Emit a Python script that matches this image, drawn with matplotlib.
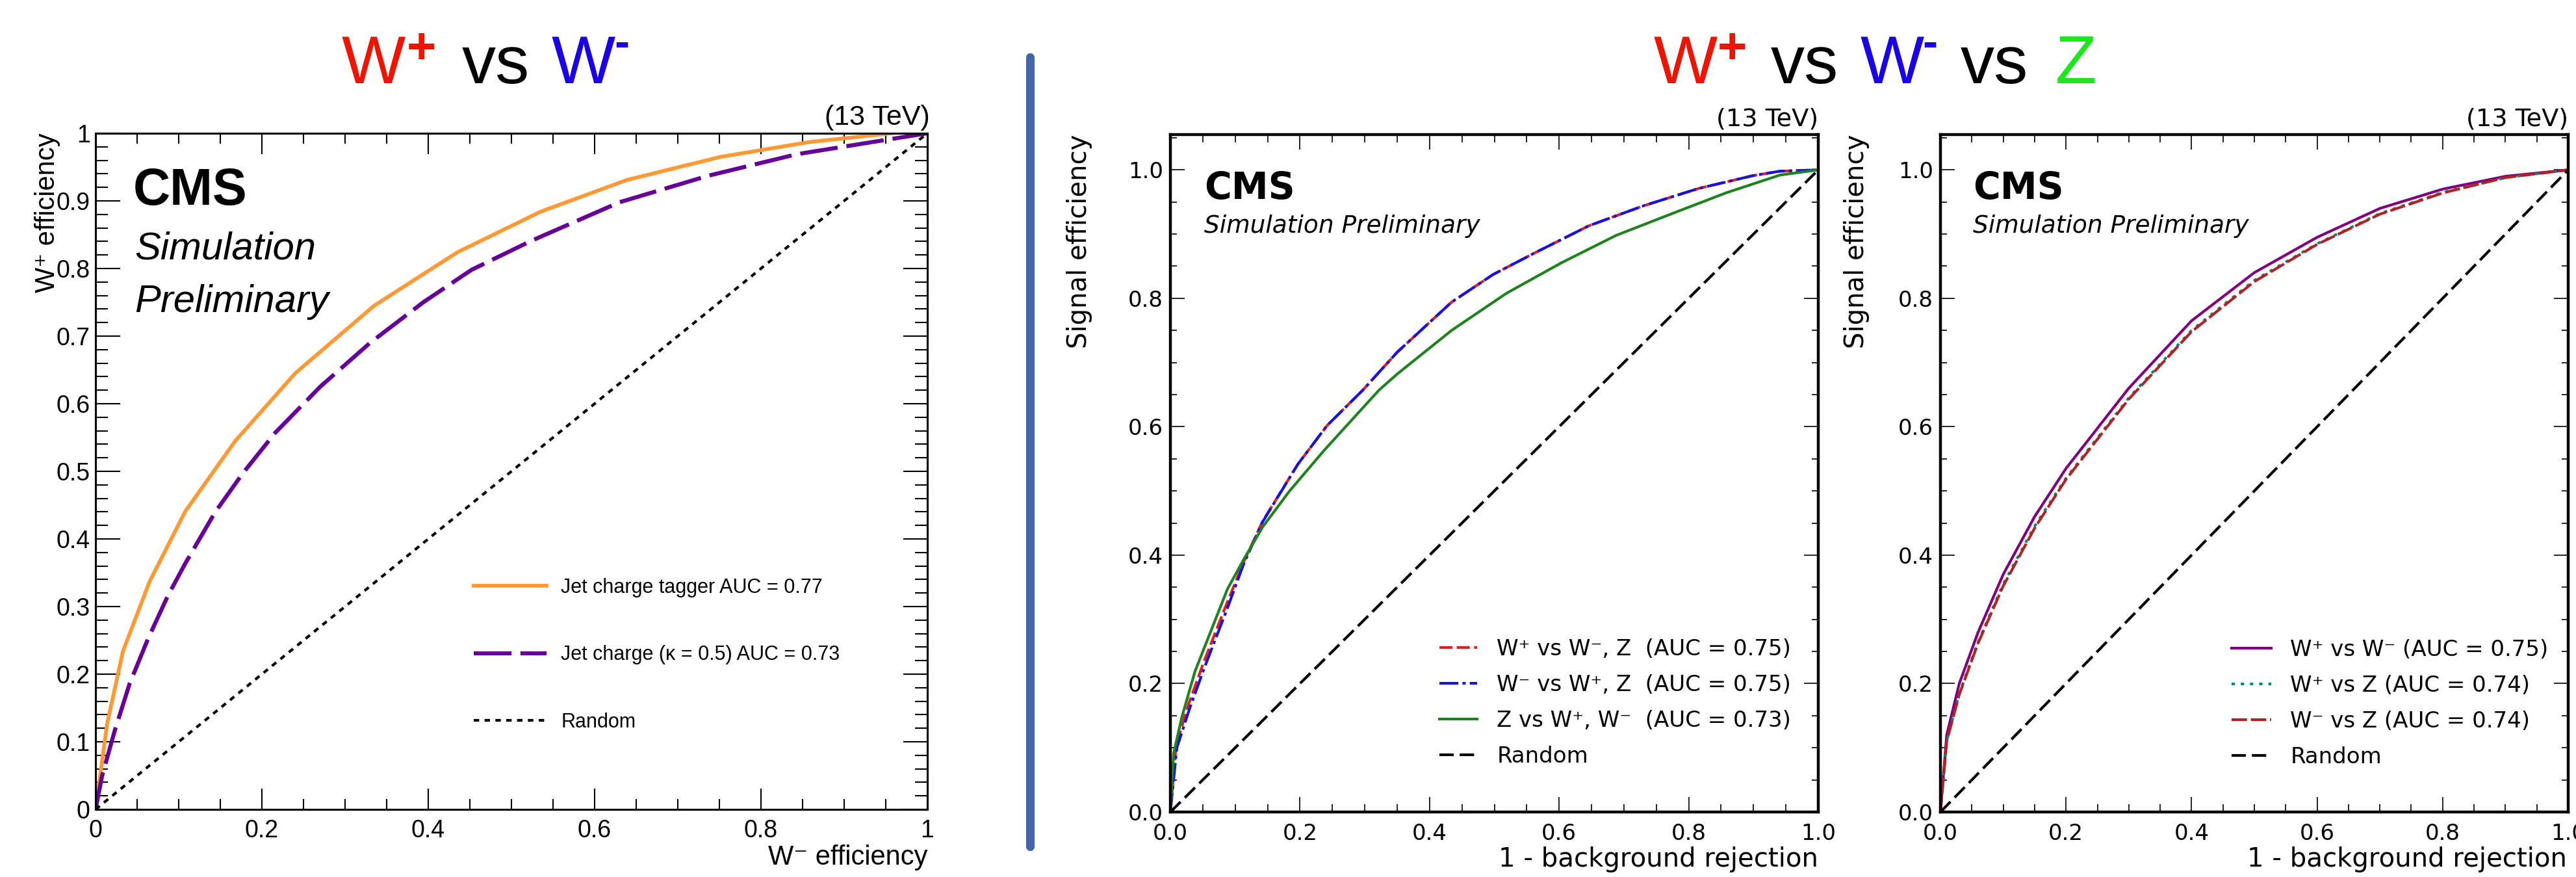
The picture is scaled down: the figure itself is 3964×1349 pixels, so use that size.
import matplotlib
matplotlib.use("Agg")
import matplotlib.pyplot as plt
from matplotlib.ticker import MultipleLocator
from matplotlib.lines import Line2D

# ---------------- data ----------------
# Left panel: W+ vs W- (efficiency curves)
tagger_x = [0, 0.014, 0.033, 0.065, 0.108, 0.168, 0.24, 0.335, 0.435, 0.535, 0.639, 0.751, 0.858, 0.957]
tagger_y = [0, 0.127, 0.234, 0.337, 0.441, 0.545, 0.645, 0.745, 0.824, 0.884, 0.931, 0.965, 0.987, 1.0]
kappa_x = [0, 0.008, 0.023, 0.041, 0.063, 0.087, 0.108, 0.144, 0.177, 0.216, 0.27, 0.33, 0.394, 0.452,
           0.524, 0.63, 0.736, 0.843, 0.949, 1.0]
kappa_y = [0, 0.05, 0.116, 0.186, 0.252, 0.316, 0.364, 0.44, 0.497, 0.557, 0.625, 0.69, 0.75, 0.798,
           0.841, 0.898, 0.937, 0.969, 0.990, 1.0]
random_xy = [0, 1]

# Middle panel: one-vs-rest ROC
wp_rest_x = [0, 0.009, 0.028, 0.051, 0.084, 0.113, 0.1425, 0.197, 0.242, 0.297, 0.35, 0.434, 0.498, 0.561,
             0.646, 0.730, 0.815, 0.899, 0.941, 1.0]
wp_rest_y = [0, 0.104, 0.168, 0.232, 0.317, 0.389, 0.453, 0.542, 0.602, 0.657, 0.716, 0.794, 0.837, 0.870,
             0.913, 0.944, 0.971, 0.991, 0.998, 1.0]
wm_rest_x = [0, 0.010, 0.030, 0.053, 0.086, 0.113, 0.1425, 0.197, 0.242, 0.297, 0.35, 0.434, 0.498, 0.561,
             0.646, 0.730, 0.815, 0.899, 0.941, 1.0]
wm_rest_y = [0, 0.100, 0.162, 0.226, 0.312, 0.386, 0.452, 0.542, 0.602, 0.657, 0.716, 0.794, 0.837, 0.870,
             0.913, 0.944, 0.971, 0.991, 0.998, 1.0]
z_rest_x = [0, 0.005, 0.0175, 0.038, 0.063, 0.088, 0.113, 0.1425, 0.184, 0.238, 0.322, 0.35, 0.434, 0.519,
            0.603, 0.688, 0.772, 0.857, 0.941, 1.0]
z_rest_y = [0, 0.091, 0.147, 0.219, 0.283, 0.347, 0.393, 0.444, 0.50, 0.564, 0.657, 0.682, 0.750, 0.808,
            0.855, 0.898, 0.931, 0.964, 0.992, 1.0]

# Right panel: pairwise ROC
pair_x = [0, 0.01, 0.03, 0.06, 0.1, 0.15, 0.2, 0.3, 0.4, 0.5, 0.6, 0.7, 0.8, 0.9, 1.0]
wpwm_y = [0, 0.12, 0.20, 0.28, 0.37, 0.46, 0.535, 0.66, 0.765, 0.84, 0.895, 0.94, 0.97, 0.99, 1.0]
wpz_y = [0, 0.11, 0.185, 0.265, 0.355, 0.445, 0.52, 0.645, 0.75, 0.828, 0.885, 0.932, 0.965, 0.988, 1.0]
wmz_y = [0, 0.11, 0.183, 0.263, 0.352, 0.442, 0.518, 0.643, 0.748, 0.826, 0.884, 0.931, 0.964, 0.988, 1.0]

left_labels = ["Jet charge tagger AUC = 0.77", "Jet charge (\u03ba = 0.5) AUC = 0.73", "Random"]
mid_labels = ["W\u207a vs W\u207b, Z  (AUC = 0.75)", "W\u207b vs W\u207a, Z  (AUC = 0.75)",
              "Z vs W\u207a, W\u207b  (AUC = 0.73)", "Random"]
right_labels = ["W\u207a vs W\u207b (AUC = 0.75)", "W\u207a vs Z (AUC = 0.74)",
                "W\u207b vs Z (AUC = 0.74)", "Random"]

left_xticks = [0, 0.2, 0.4, 0.6, 0.8, 1.0]
left_xticklabels = ["0", "0.2", "0.4", "0.6", "0.8", "1"]
left_yticks = [0, 0.1, 0.2, 0.3, 0.4, 0.5, 0.6, 0.7, 0.8, 0.9, 1.0]
left_yticklabels = ["0", "0.1", "0.2", "0.3", "0.4", "0.5", "0.6", "0.7", "0.8", "0.9", "1"]
roc_ticks = [0, 0.2, 0.4, 0.6, 0.8, 1.0]
roc_ticklabels = ["0.0", "0.2", "0.4", "0.6", "0.8", "1.0"]

# ---------------- figure ----------------
W, H, DPI = 3964, 1349, 100
fig = plt.figure(figsize=(W / DPI, H / DPI), dpi=DPI)
fig.patch.set_facecolor("white")

FL = ["Liberation Sans", "DejaVu Sans"]
FM = ["DejaVu Sans"]


def fx(px):
    return px / W


def fy(py):
    return 1 - py / H


def axes_px(x0, y0, x1, y1):
    return fig.add_axes([fx(x0), fy(y1), (x1 - x0) / W, (y1 - y0) / H])


# ---------------- left panel ----------------
axL = axes_px(147, 205, 1427, 1245)
lo, = axL.plot(tagger_x, tagger_y, color="#ff9933", lw=4.2, solid_joinstyle="miter")
lp, = axL.plot(kappa_x, kappa_y, color="#660099", lw=4.5, dashes=(9.3, 2.2))
lr, = axL.plot(random_xy, random_xy, color="black", lw=3.0, dashes=(2, 2))
axL.set_xlim(0, 1)
axL.set_ylim(0, 1)
axL.set_xticks(left_xticks, left_xticklabels, family=FL, fontsize=27)
axL.set_yticks(left_yticks, left_yticklabels, family=FL, fontsize=27)
axL.xaxis.set_minor_locator(MultipleLocator(0.05))
axL.yaxis.set_minor_locator(MultipleLocator(0.02))
axL.tick_params(which="both", direction="in", top=True, right=True, width=1.5)
axL.tick_params(axis="x", which="major", length=23, pad=11)
axL.tick_params(axis="x", which="minor", length=11.5)
axL.tick_params(axis="y", which="major", length=27, pad=6)
axL.tick_params(axis="y", which="minor", length=14)
for s in axL.spines.values():
    s.set_linewidth(2.2)
axL.set_xlabel("W\u207b efficiency", family=FL, fontsize=30, ha="right", va="baseline")
axL.xaxis.set_label_coords(1.0, -0.0817)
axL.set_ylabel("W\u207a efficiency", family=FL, fontsize=30, ha="center", va="top")
axL.yaxis.set_label_coords(-0.0734, 1.0)
axL.yaxis.label.set_horizontalalignment("right")
axL.text(1.003, 1.0125, "(13 TeV)", transform=axL.transAxes, ha="right", va="baseline",
         family=FL, fontsize=31)
axL.text(0.0453, 0.894, "CMS", transform=axL.transAxes, ha="left", va="baseline",
         family=FL, fontsize=57, weight="bold")
axL.text(0.047, 0.8135, "Simulation", transform=axL.transAxes, ha="left", va="baseline",
         family=FL, fontsize=43, style="italic")
axL.text(0.047, 0.7356, "Preliminary", transform=axL.transAxes, ha="left", va="baseline",
         family=FL, fontsize=43, style="italic")
axL.legend([lo, lp, lr], left_labels, loc="upper left", bbox_to_anchor=(fx(729), fy(889)),
           bbox_transform=fig.transFigure, frameon=False, prop=dict(family=FL, size=22),
           handlelength=3.67, handletextpad=0.72, labelspacing=2.4, borderpad=0, borderaxespad=0)


# ---------------- ROC panels ----------------
def style_roc(ax, xlab_rightfrac, ylab_x):
    ax.set_xlim(0, 1)
    ax.set_ylim(0, 1.055)
    ax.set_xticks(roc_ticks, roc_ticklabels, family=FM, fontsize=24.5)
    ax.set_yticks(roc_ticks, roc_ticklabels, family=FM, fontsize=24.5)
    ax.xaxis.set_minor_locator(MultipleLocator(0.05))
    ax.yaxis.set_minor_locator(MultipleLocator(0.05))
    ax.tick_params(which="both", direction="in", top=True, right=True, width=1.2)
    ax.tick_params(axis="x", which="major", length=16.5, pad=12)
    ax.tick_params(axis="x", which="minor", length=8.6)
    ax.tick_params(axis="y", which="major", length=16, pad=8)
    ax.tick_params(axis="y", which="minor", length=7)
    for s in ax.spines.values():
        s.set_linewidth(3.2)
    ax.set_xlabel("1 - background rejection", family=FM, fontsize=29, ha="right", va="baseline")
    ax.xaxis.set_label_coords(xlab_rightfrac, -0.0806)
    ax.set_ylabel("Signal efficiency", family=FM, fontsize=29, va="center")
    ax.yaxis.set_label_coords(ylab_x, 1.0)
    ax.yaxis.label.set_horizontalalignment("right")
    ax.text(1.0, 1.0134, "(13 TeV)", transform=ax.transAxes, ha="right", va="baseline",
            family=FM, fontsize=27.5)
    ax.text(0.052, 0.905, "CMS", transform=ax.transAxes, ha="left", va="baseline",
            family=FM, fontsize=41, weight="bold")
    ax.text(0.052, 0.855, "Simulation Preliminary", transform=ax.transAxes, ha="left", va="baseline",
            family=FM, fontsize=27, style="italic")


axM = axes_px(1801, 207, 2798, 1249)
m1, = axM.plot(wp_rest_x, wp_rest_y, color="#e41e1e", lw=3.0, dashes=(4.8, 1.6))
m2, = axM.plot(wm_rest_x, wm_rest_y, color="#1414e0", lw=3.0, dashes=(7, 1.5, 1.2, 1.5))
m3, = axM.plot(z_rest_x, z_rest_y, color="#1e821e", lw=3.0)
m4, = axM.plot(random_xy, random_xy, color="black", lw=3.0, dashes=(5.3, 2.2))
style_roc(axM, 1.0, -0.14)
axM.legend([m1, m2, m3, m4], mid_labels, loc="upper left", bbox_to_anchor=(fx(2215), fy(982)),
           bbox_transform=fig.transFigure, frameon=False, prop=dict(family=FM, size=24.5),
           handlelength=1.7, handletextpad=0.9, labelspacing=0.65, borderpad=0, borderaxespad=0)

axR = axes_px(2986, 207, 3952, 1249)
r1, = axR.plot(pair_x, wpwm_y, color="#800080", lw=3.0)
r2, = axR.plot(pair_x, wpz_y, color="#008b8b", lw=3.0, dashes=(1.2, 2.2))
r3, = axR.plot(pair_x, wmz_y, color="#b22222", lw=3.0, dashes=(5.7, 1.4))
r4, = axR.plot(random_xy, random_xy, color="black", lw=3.0, dashes=(5.3, 2.2))
style_roc(axR, 0.998, -0.1335)
axR.legend([r1, r2, r3, r4], right_labels, loc="upper left", bbox_to_anchor=(fx(3434), fy(983)),
           bbox_transform=fig.transFigure, frameon=False, prop=dict(family=FM, size=24.5),
           handlelength=1.8, handletextpad=0.85, labelspacing=0.65, borderpad=0, borderaxespad=0)

# ---------------- titles ----------------
RED, BLUE, GREEN = "#f01400", "#1a00e8", "#1ee61e"


def piece(x, y, s, color, size, weight="normal"):
    fig.text(fx(x), fy(y), s, color=color, fontsize=size, family=FL, weight=weight,
             ha="left", va="baseline")


piece(526, 128, "W", RED, 75)
piece(626, 97, "+", RED, 56, "bold")
piece(711, 128, "vs", "black", 75)
piece(849, 128, "W", BLUE, 75)
piece(945, 87, "-", BLUE, 50, "bold")

piece(2545, 128, "W", RED, 75)
piece(2643, 97, "+", RED, 56, "bold")
piece(2725, 128, "vs", "black", 75)
piece(2863, 128, "W", BLUE, 75)
piece(2958, 87, "-", BLUE, 50, "bold")
piece(3017, 128, "vs", "black", 75)
piece(3163, 128, "Z", GREEN, 75)

# separator bar
fig.add_artist(Line2D([fx(1585), fx(1585)], [fy(88), fy(1302)], transform=fig.transFigure,
                      color="#4464ad", lw=9.5, solid_capstyle="round"))

fig.savefig("out.png", dpi=DPI, facecolor="white")
